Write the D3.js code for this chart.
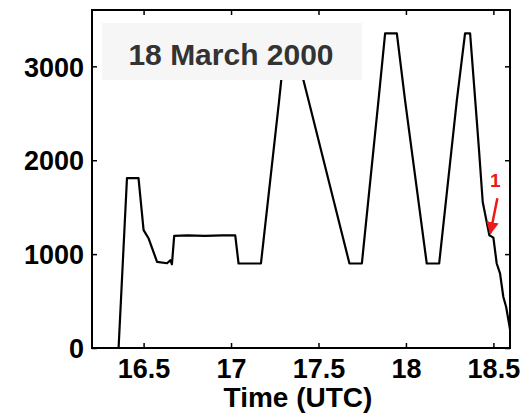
<!DOCTYPE html>
<html>
<head>
<meta charset="utf-8">
<script src="https://cdn.jsdelivr.net/npm/d3@7"></script>
<style>
  body { margin: 0; background: #fff; }
  text { font-family: "Liberation Sans", Arial, sans-serif; font-weight: bold; }
</style>
</head>
<body>
<script>
// time (UTC hours) and altitude values
const times = [16.357, 16.405, 16.471, 16.500, 16.529, 16.577, 16.634, 16.653, 16.662, 16.675,
  16.75, 16.85, 16.95, 17.024, 17.043, 17.171, 17.275, 17.287, 17.310, 17.357, 17.414, 17.443,
  17.677, 17.748, 17.843, 17.881, 17.948, 17.995, 18.119, 18.190, 18.291, 18.338, 18.367,
  18.405, 18.418, 18.439, 18.477, 18.500, 18.519, 18.538, 18.557, 18.573, 18.601];
const altitude = [0, 1810, 1810, 1255, 1166, 917, 903, 935, 892, 1195,
  1200, 1195, 1200, 1200, 900, 900, 2638, 2851, 3310, 3310, 2851, 2638,
  900, 900, 2638, 3350, 3350, 2638, 900, 900, 2638, 3350, 3350,
  2425, 2104, 1555, 1200, 1176, 900, 795, 543, 437, 136];
const xTicks = [16.5, 17, 17.5, 18, 18.5];
const yTicks = [0, 1000, 2000, 3000];
const title = "18 March 2000";
const xLabel = "Time (UTC)";
const marker = { t: 18.477, v: 1200, label: "1" };

const W = 531, H = 413;
const m = { left: 92, right: 21, top: 10, bottom: 65 };

const x = d3.scaleLinear().domain([16.205, 18.595]).range([m.left, W - m.right]);
const y = d3.scaleLinear().domain([0, 3600]).range([H - m.bottom, m.top]);

const svg = d3.select("body").append("svg")
  .attr("width", W)
  .attr("height", H);

svg.append("defs").append("clipPath").attr("id", "clip")
  .append("rect")
  .attr("x", m.left).attr("y", m.top)
  .attr("width", W - m.left - m.right).attr("height", H - m.top - m.bottom);

// data line
const line = d3.line().x((d, i) => x(times[i])).y(d => y(d));
svg.append("path")
  .datum(altitude)
  .attr("clip-path", "url(#clip)")
  .attr("fill", "none")
  .attr("stroke", "#000")
  .attr("stroke-width", 2.2)
  .attr("stroke-linejoin", "round")
  .attr("d", line);

// axes, ticks inward on all four sides
const tickLen = 5;
const bottom = svg.append("g")
  .attr("transform", `translate(0,${H - m.bottom})`)
  .call(d3.axisBottom(x).tickValues(xTicks).tickSizeInner(-tickLen).tickSizeOuter(0).tickPadding(11).tickFormat(d3.format("")));
const left = svg.append("g")
  .attr("transform", `translate(${m.left},0)`)
  .call(d3.axisLeft(y).tickValues(yTicks).tickSizeInner(-tickLen).tickSizeOuter(0).tickPadding(8).tickFormat(d3.format("d")));
svg.append("g")
  .attr("transform", `translate(0,${m.top})`)
  .call(d3.axisTop(x).tickValues(xTicks).tickSizeInner(-tickLen).tickSizeOuter(0).tickFormat(""));
svg.append("g")
  .attr("transform", `translate(${W - m.right},0)`)
  .call(d3.axisRight(y).tickValues(yTicks).tickSizeInner(-tickLen).tickSizeOuter(0).tickFormat(""));

svg.selectAll(".domain").remove();
svg.selectAll(".tick line").attr("stroke", "#000").attr("stroke-width", 1.5);

bottom.selectAll("text")
  .attr("font-size", 27)
  .attr("fill", "#000")
  .attr("font-family", "Liberation Sans, Arial, sans-serif")
  .attr("font-weight", "bold");
left.selectAll("text")
  .attr("font-size", 27)
  .attr("fill", "#000")
  .attr("dy", "0.36em")
  .attr("font-family", "Liberation Sans, Arial, sans-serif")
  .attr("font-weight", "bold");

// frame
svg.append("rect")
  .attr("x", m.left).attr("y", m.top)
  .attr("width", W - m.left - m.right).attr("height", H - m.top - m.bottom)
  .attr("fill", "none")
  .attr("stroke", "#000")
  .attr("stroke-width", 2);

// x label
svg.append("text")
  .attr("x", 298).attr("y", 407)
  .attr("text-anchor", "middle")
  .attr("font-size", 28)
  .attr("fill", "#000")
  .text(xLabel);

// title box
svg.append("rect")
  .attr("x", 102).attr("y", 23)
  .attr("width", 260).attr("height", 57)
  .attr("fill", "#f6f6f6");
svg.append("text")
  .attr("x", 231).attr("y", 65)
  .attr("text-anchor", "middle")
  .attr("font-size", 30)
  .attr("fill", "#333")
  .text(title);

// red marker arrow
const red = "#f01818";
svg.append("defs").append("marker")
  .attr("id", "arr")
  .attr("viewBox", "0 0 10 10")
  .attr("refX", 9).attr("refY", 5)
  .attr("markerWidth", 5).attr("markerHeight", 5)
  .attr("orient", "auto")
  .append("path").attr("d", "M0,0L10,5L0,10z").attr("fill", red);
svg.append("line")
  .attr("x1", x(marker.t) + 8).attr("y1", y(marker.v) - 37)
  .attr("x2", x(marker.t) + 1).attr("y2", y(marker.v) - 2)
  .attr("stroke", red)
  .attr("stroke-width", 2.5)
  .attr("marker-end", "url(#arr)");
svg.append("text")
  .attr("x", x(marker.t) + 6).attr("y", y(marker.v) - 48)
  .attr("text-anchor", "middle")
  .attr("font-size", 19)
  .attr("fill", red)
  .text(marker.label);
</script>
</body>
</html>
